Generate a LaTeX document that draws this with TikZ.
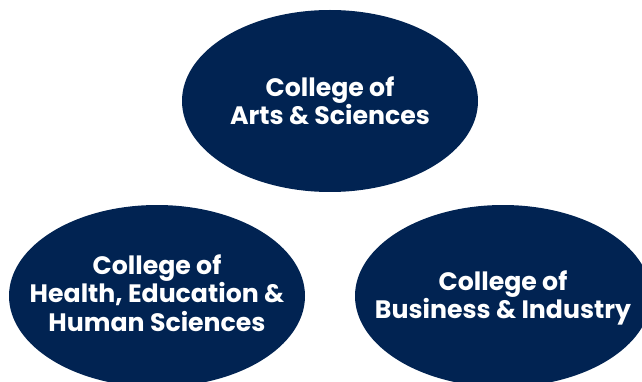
\documentclass[tikz,border=0pt]{standalone}
\usepackage{fontspec}
\setmainfont{Poppins}
\usepackage{xcolor}
\usetikzlibrary{shapes.geometric, positioning}
\definecolor{navy}{HTML}{012352}
\tikzstyle{college} = [ellipse, fill=navy, minimum width=296pt, minimum height=182pt, inner sep=0pt]
\tikzstyle{collegetext} = [text=white, align=center, font=\fontsize{25.2}{28.5}\selectfont\bfseries]

\begin{document}
\begin{tikzpicture}[x=1pt, y=-1pt]
    \useasboundingbox (0,0) rectangle (642,382);
    \clip (0,0) rectangle (642,382);
    \node (arts) [college] at (330,101) {};
    \node (health) [college] at (157,296) {};
    \node (business) [college] at (503,296) {};

    \node (artstext) [collegetext] at (arts.center) {College of\\Arts \& Sciences};
    \node (healthtext) [collegetext] at ([yshift=3pt]health.center) {College of\\Health, Education \&\\Human Sciences};
    \node (businesstext) [collegetext] at ([yshift=-2pt]business.center) {College of\\Business \& Industry};
\end{tikzpicture}
\end{document}
